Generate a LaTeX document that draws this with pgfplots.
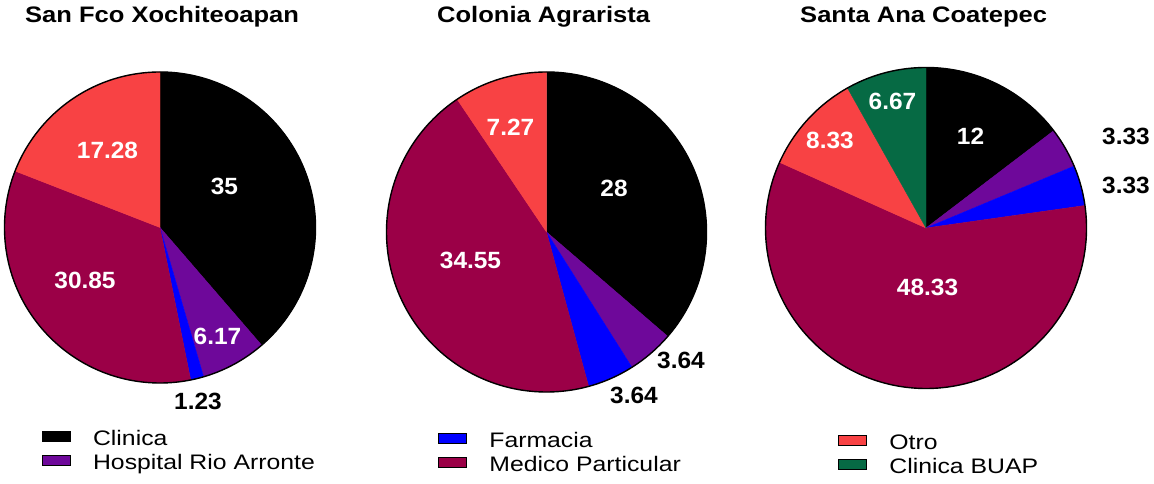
\documentclass[border=0pt]{standalone}
\usepackage{fontspec}
\setmainfont{Liberation Sans}
\newfontfamily\titlefam{Liberation Sans}[FakeStretch=1.14]
\newfontfamily\legfam{Liberation Sans}[FakeStretch=1.18]
\newfontfamily\lblfam{Liberation Sans}[FakeStretch=1.04]
\usepackage{pgfplots}
\pgfplotsset{compat=1.18}

\definecolor{cpurple}{HTML}{6E089A}
\definecolor{cblue}{HTML}{0000FF}
\definecolor{ccrimson}{HTML}{9B0047}
\definecolor{cred}{HTML}{F84244}
\definecolor{cgreen}{HTML}{066A44}

\newcommand{\titlefont}{\titlefam\bfseries\fontsize{22.4}{26}\selectfont}
\newcommand{\legendfont}{\legfam\fontsize{21}{25}\selectfont}
\newcommand{\lblfont}{\lblfam\bfseries\fontsize{23.5}{28}\selectfont}

% pie set-up: centre x, centre y (image coords, y negative), radius, total of values
\newcommand{\pieinit}[4]{\xdef\cx{#1}\xdef\cy{#2}\xdef\rr{#3}\pgfmathsetmacro{\tmptot}{#4}\xdef\total{\tmptot}\xdef\curA{90}}
% one slice: value, colour (clockwise from 12 o'clock)
\newcommand{\slice}[2]{%
  \pgfmathsetmacro{\endA}{\curA-(#1/\total)*360}%
  \edef\doslice{\noexpand\addplot[fill=#2, draw=#2, line width=0.4pt, forget plot, domain=\endA:\curA, samples=90, variable=\noexpand\t] ({\cx+\rr*cos(\noexpand\t)},{\cy+\rr*sin(\noexpand\t)}) -- (axis cs:\cx,\cy) -- cycle;}%
  \doslice
  \xdef\curA{\endA}}
\newcommand{\pieoutline}{%
  \edef\docirc{\noexpand\draw[black, line width=1.4pt] (axis cs:\cx,\cy) circle[radius=\rr pt];}\docirc}

\tikzset{
  lblw/.style={text=white, font=\lblfont, inner sep=0pt, anchor=center},
  lblb/.style={text=black, font=\lblfont, inner sep=0pt, anchor=center},
}
\pgfplotsset{
  frame/.style={
    width=1154pt, height=484pt, scale only axis,
    xmin=0, xmax=1154, ymin=-484, ymax=0,
    hide axis, clip=false,
    legend image code/.code={\fill[##1] (0pt,-1pt) rectangle (28pt,9pt); \path (51pt,0pt);},
    legend cell align=left,
    legend style={draw=none, fill=none, inner sep=0pt, outer sep=0pt,
      font=\legendfont, row sep=2.5pt,
      nodes={inner sep=0pt, text height=16pt, text depth=5pt}},
  },
}

\begin{document}
\begin{tikzpicture}
% ---------------- San Fco Xochiteoapan ----------------
\begin{axis}[frame, legend style={at={(axis cs:41.7,-430)}, anchor=north west}]
  \pieinit{160}{-227.5}{155.5}{35+6.17+1.23+30.85+17.28}
  \slice{35}{black}
  \slice{6.17}{cpurple}
  \slice{1.23}{cblue}
  \slice{30.85}{ccrimson}
  \slice{17.28}{cred}
  \pieoutline
  \addlegendimage{fill=black}\addlegendentry{Clinica}
  \addlegendimage{fill=cpurple}\addlegendentry{Hospital Rio Arronte}
  \node[lblw] at (axis cs:107.5,-150) {17.28};
  \node[lblw] at (axis cs:224.5,-186.7) {35};
  \node[lblw] at (axis cs:85,-280.5) {30.85};
  \node[lblw] at (axis cs:217.5,-336) {6.17};
  \node[lblb] at (axis cs:198,-401) {1.23};
  \node[anchor=base west, inner sep=0pt, font=\titlefont] at (axis cs:25,-23) {San Fco Xochiteoapan};
\end{axis}
% ---------------- Colonia Agrarista ----------------
\begin{axis}[frame, legend style={at={(axis cs:438,-432)}, anchor=north west}]
  \pieinit{546.5}{-232}{160}{28+3.64+3.64+34.55+7.27}
  \slice{28}{black}
  \slice{3.64}{cpurple}
  \slice{3.64}{cblue}
  \slice{34.55}{ccrimson}
  \slice{7.27}{cred}
  \pieoutline
  \addlegendimage{fill=cblue}\addlegendentry{Farmacia}
  \addlegendimage{fill=ccrimson}\addlegendentry{Medico Particular}
  \node[lblw] at (axis cs:510.5,-127.5) {7.27};
  \node[lblw] at (axis cs:614,-188) {28};
  \node[lblw] at (axis cs:470.5,-260) {34.55};
  \node[lblb] at (axis cs:681,-360) {3.64};
  \node[lblb] at (axis cs:634,-395) {3.64};
  \node[anchor=base west, inner sep=0pt, font=\titlefont] at (axis cs:437,-23) {Colonia Agrarista};
\end{axis}
% ---------------- Santa Ana Coatepec ----------------
\begin{axis}[frame, legend style={at={(axis cs:838,-434)}, anchor=north west}]
  \pieinit{926}{-228}{160.5}{12+3.33+3.33+48.33+8.33+6.67}
  \slice{12}{black}
  \slice{3.33}{cpurple}
  \slice{3.33}{cblue}
  \slice{48.33}{ccrimson}
  \slice{8.33}{cred}
  \slice{6.67}{cgreen}
  \pieoutline
  \addlegendimage{fill=cred}\addlegendentry{Otro}
  \addlegendimage{fill=cgreen}\addlegendentry{Clinica BUAP}
  \node[lblw] at (axis cs:892.5,-101.7) {6.67};
  \node[lblw] at (axis cs:830,-140) {8.33};
  \node[lblw] at (axis cs:970.5,-136) {12};
  \node[lblw] at (axis cs:927.5,-287.5) {48.33};
  \node[lblb] at (axis cs:1126,-136.5) {3.33};
  \node[lblb] at (axis cs:1126,-185) {3.33};
  \node[anchor=base west, inner sep=0pt, font=\titlefont] at (axis cs:800,-23) {Santa Ana Coatepec};
\end{axis}
\pgfresetboundingbox
\path[use as bounding box] (0,0) rectangle (1154pt,484pt);
\end{tikzpicture}
\end{document}
